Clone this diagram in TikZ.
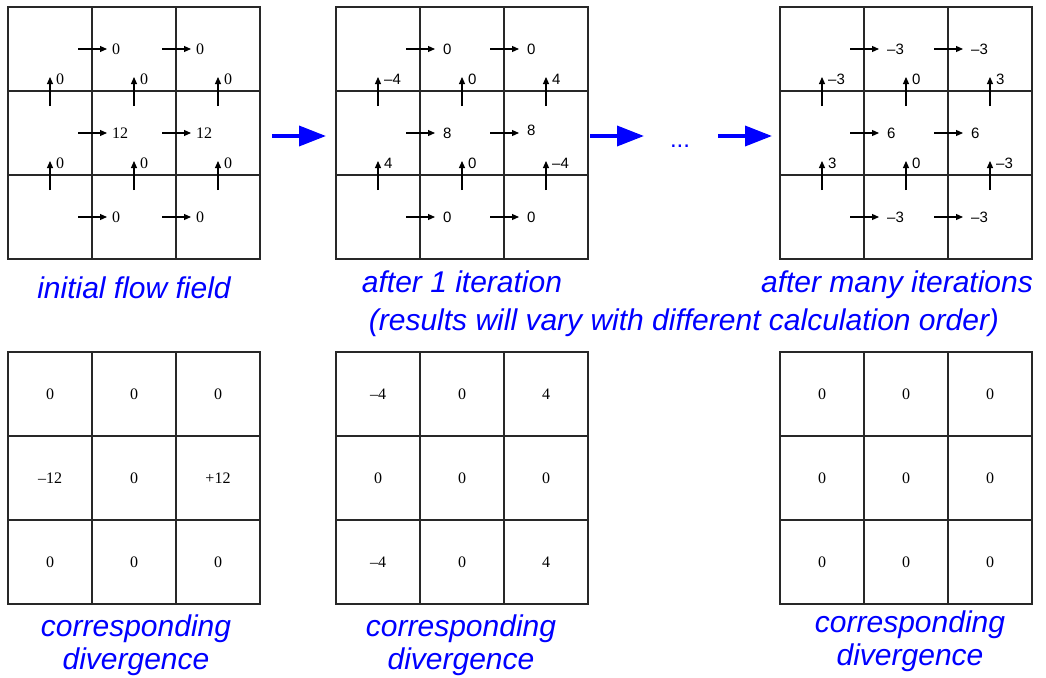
\documentclass[tikz,border=0pt]{standalone}
\usepackage{fontspec}
\setmainfont{Liberation Serif}
\newfontfamily\capfont{Liberation Sans}
\usetikzlibrary{arrows.meta}
\definecolor{capblue}{RGB}{0,0,255}
\definecolor{gridcol}{RGB}{40,40,40}
\tikzset{
  gridline/.style={line width=1.2pt, draw=gridcol},
  flowarrow/.style={line width=1.1pt, -{Triangle[length=7pt,width=6pt]}},
  bigarrow/.style={line width=3.6pt, draw=capblue, -{Triangle[length=27pt,width=20pt]}},
  caption/.style={text=capblue, font=\capfont\itshape\fontsize{30}{33}\selectfont, align=center, inner sep=0pt},
  vserif/.style={font=\fontsize{16}{16}\selectfont, inner sep=0pt},
  vsans/.style={font=\capfont\fontsize{15}{15}\selectfont, inner sep=0pt},
}
\begin{document}
\begin{tikzpicture}[x=1pt,y=-1pt]
\useasboundingbox (0,0) rectangle (1046,677);

% ---------- grids ----------
\foreach \gx/\gy in {8/7, 336/7, 780/7, 8/352, 336/352, 780/352}{
  \draw[gridline] (\gx,\gy) rectangle ++(252,252);
  \draw[gridline] ({\gx+84},\gy) -- ++(0,252);
  \draw[gridline] ({\gx+168},\gy) -- ++(0,252);
  \draw[gridline] (\gx,{\gy+84}) -- ++(252,0);
  \draw[gridline] (\gx,{\gy+168}) -- ++(252,0);
}

% ---------- initial flow field (A) ----------
\foreach \r/\p/\q in {0/0/0, 1/12/12, 2/0/0}{
  \foreach \j/\t in {1/\p, 2/\q}{
    \coordinate (A-h\r\j-s) at ({8+84*\j-14},{49+84*\r});
    \coordinate (A-h\r\j-e) at ({8+84*\j+15},{49+84*\r});
    \draw[flowarrow] (A-h\r\j-s) -- (A-h\r\j-e);
    \node[vserif,anchor=west] (A-h\r\j-l) at ([xshift=5pt]A-h\r\j-e) {\t};
  }
}
\foreach \i/\a/\b/\c in {1/0/0/0, 2/0/0/0}{
  \foreach \k/\t in {0/\a, 1/\b, 2/\c}{
    \coordinate (A-v\i\k-s) at ({50+84*\k},{7+84*\i+15});
    \coordinate (A-v\i\k-e) at ({50+84*\k},{7+84*\i-14});
    \draw[flowarrow] (A-v\i\k-s) -- (A-v\i\k-e);
    \node[vserif,anchor=west] (A-v\i\k-l) at ([xshift=6pt,yshift=-2pt]A-v\i\k-e) {\t};
  }
}

% ---------- after 1 iteration (B) ----------
\foreach \r/\p/\q in {0/0/0, 1/8/\raisebox{6pt}{8}, 2/0/0}{
  \foreach \j/\t in {1/\p, 2/\q}{
    \coordinate (B-h\r\j-s) at ({336+84*\j-14},{49+84*\r});
    \coordinate (B-h\r\j-e) at ({336+84*\j+15},{49+84*\r});
    \draw[flowarrow] (B-h\r\j-s) -- (B-h\r\j-e);
    \node[vsans,anchor=west] (B-h\r\j-l) at ([xshift=8pt]B-h\r\j-e) {\t};
  }
}
\foreach \i/\a/\b/\c in {1/–4/0/4, 2/4/0/–4}{
  \foreach \k/\t in {0/\a, 1/\b, 2/\c}{
    \coordinate (B-v\i\k-s) at ({378+84*\k},{7+84*\i+15});
    \coordinate (B-v\i\k-e) at ({378+84*\k},{7+84*\i-14});
    \draw[flowarrow] (B-v\i\k-s) -- (B-v\i\k-e);
    \node[vsans,anchor=west] (B-v\i\k-l) at ([xshift=6pt,yshift=-2pt]B-v\i\k-e) {\t};
  }
}

% ---------- after many iterations (C) ----------
\foreach \r/\p/\q in {0/–3/–3, 1/6/6, 2/–3/–3}{
  \foreach \j/\t in {1/\p, 2/\q}{
    \coordinate (C-h\r\j-s) at ({780+84*\j-14},{49+84*\r});
    \coordinate (C-h\r\j-e) at ({780+84*\j+15},{49+84*\r});
    \draw[flowarrow] (C-h\r\j-s) -- (C-h\r\j-e);
    \node[vsans,anchor=west] (C-h\r\j-l) at ([xshift=8pt]C-h\r\j-e) {\t};
  }
}
\foreach \i/\a/\b/\c in {1/–3/0/3, 2/3/0/–3}{
  \foreach \k/\t in {0/\a, 1/\b, 2/\c}{
    \coordinate (C-v\i\k-s) at ({822+84*\k},{7+84*\i+15});
    \coordinate (C-v\i\k-e) at ({822+84*\k},{7+84*\i-14});
    \draw[flowarrow] (C-v\i\k-s) -- (C-v\i\k-e);
    \node[vsans,anchor=west] (C-v\i\k-l) at ([xshift=6pt,yshift=-2pt]C-v\i\k-e) {\t};
  }
}

% ---------- divergence grids ----------
\foreach \r/\a/\b/\c in {0/0/0/0, 1/–12/0/+12, 2/0/0/0}{
  \foreach \k/\t in {0/\a, 1/\b, 2/\c}{
    \node[vserif] (D-\r\k) at ({50+84*\k},{394+84*\r}) {\t};
  }
}
\foreach \r/\a/\b/\c in {0/–4/0/4, 1/0/0/0, 2/–4/0/4}{
  \foreach \k/\t in {0/\a, 1/\b, 2/\c}{
    \node[vserif] (E-\r\k) at ({378+84*\k},{394+84*\r}) {\t};
  }
}
\foreach \r/\a/\b/\c in {0/0/0/0, 1/0/0/0, 2/0/0/0}{
  \foreach \k/\t in {0/\a, 1/\b, 2/\c}{
    \node[vserif] (F-\r\k) at ({822+84*\k},{394+84*\r}) {\t};
  }
}

% ---------- blue arrows ----------
\coordinate (ba1s) at (272,136); \coordinate (ba1e) at (326,136);
\coordinate (ba2s) at (590,136); \coordinate (ba2e) at (644,136);
\coordinate (ba3s) at (718,136); \coordinate (ba3e) at (772,136);
\draw[bigarrow] (ba1s) -- (ba1e);
\draw[bigarrow] (ba2s) -- (ba2e);
\draw[bigarrow] (ba3s) -- (ba3e);
\node[text=capblue, font=\capfont\fontsize{24}{24}\selectfont, inner sep=0pt, anchor=base] (dots) at (680,147) {...};

% ---------- captions ----------
\node[caption, anchor=base] (capA) at (134,298) {initial flow field};
\node[caption, anchor=base] (capB) at (462,292) {after 1 iteration};
\node[caption, anchor=base] (capC) at (897,292) {after many iterations};
\node[caption, anchor=base] (capN) at (684,330) {(results will vary with different calculation order)};
\node[caption, anchor=base] (capD1) at (136,636) {corresponding};
\node[caption, anchor=base] (capD2) at (136,669) {divergence};
\node[caption, anchor=base] (capE1) at (461,636) {corresponding};
\node[caption, anchor=base] (capE2) at (461,669) {divergence};
\node[caption, anchor=base] (capF1) at (910,632) {corresponding};
\node[caption, anchor=base] (capF2) at (910,665) {divergence};
\end{tikzpicture}
\end{document}
